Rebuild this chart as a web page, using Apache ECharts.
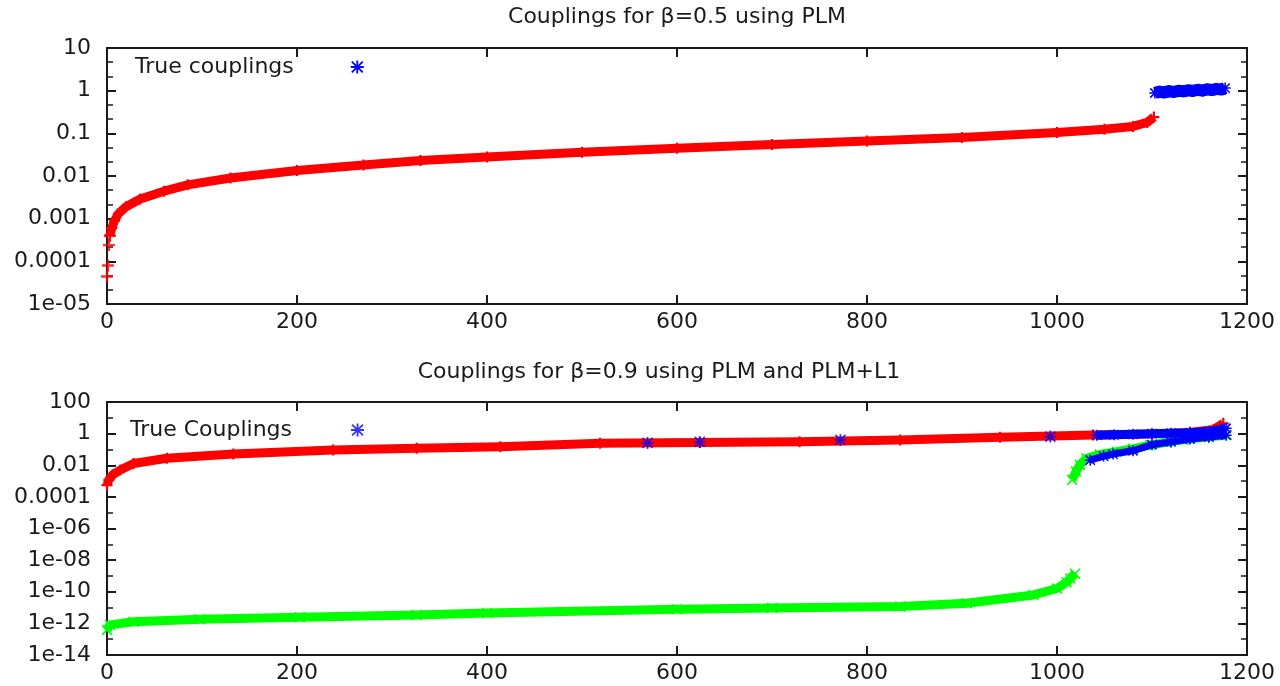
<!DOCTYPE html>
<html>
<head>
<meta charset="utf-8">
<script src="https://cdn.jsdelivr.net/npm/echarts@6/dist/echarts.min.js"></script>
<style>
  html, body { margin: 0; background: #fff; }
  #chart { width: 1280px; height: 686px; }
</style>
</head>
<body>
<div id="chart"></div>
<script>
// tick labels
const xTickMax = 1200;
const topYLabels = ['1e-05', '0.0001', '0.001', '0.01', '0.1', '1', '10'];
const bottomYLabels = ['1e-14', '1e-12', '1e-10', '1e-08', '1e-06', '0.0001', '0.01', '1', '100'];

// beta = 0.5, PLM couplings (sorted)
const topPlmX = [0, 1, 2, 3, 5, 8, 12, 20, 35, 60, 85, 130, 200, 270, 330, 400, 500, 600, 700, 800, 900, 1000, 1050, 1080, 1095, 1102];
const topPlmY = [4.4e-5, 8e-5, 2.4e-4, 4e-4, 6e-4, 9e-4, 1.3e-3, 1.9e-3, 2.9e-3, 4.4e-3, 6.2e-3, 9e-3, 1.35e-2, 1.8e-2, 2.3e-2, 2.8e-2, 3.6e-2, 4.5e-2, 5.5e-2, 6.6e-2, 8e-2, 0.105, 0.125, 0.145, 0.18, 0.24];
// beta = 0.5, true couplings
const topTrueX = [1103, 1108, 1113, 1118, 1123, 1128, 1133, 1138, 1143, 1148, 1153, 1158, 1163, 1168, 1173, 1177];
const topTrueY = [0.88, 0.95, 0.9, 0.98, 0.93, 1.0, 0.96, 1.02, 0.98, 1.05, 1.0, 1.08, 1.03, 1.1, 1.06, 1.15];

// beta = 0.9, PLM
const botPlmX = [0, 2, 6, 14, 28, 63, 133, 238, 326, 414, 519, 624, 729, 835, 940, 1038, 1100, 1140, 1165, 1175];
const botPlmY = [5.6e-4, 1.2e-3, 2.5e-3, 5e-3, 1.3e-2, 2.75e-2, 5.1e-2, 9.1e-2, 0.117, 0.148, 0.245, 0.27, 0.31, 0.4, 0.59, 0.81, 0.95, 1.2, 1.8, 4.5];
// beta = 0.9, PLM+L1 (small branch and large branch)
const botL1LowX = [0, 3, 28, 98, 203, 326, 400, 600, 700, 835, 905, 975, 1000, 1010, 1014, 1019];
const botL1LowY = [3.8e-13, 8e-13, 1.26e-12, 1.8e-12, 2.4e-12, 3.4e-12, 4.5e-12, 7.9e-12, 9.5e-12, 1.15e-11, 1.86e-11, 6.3e-11, 1.6e-10, 4e-10, 7e-10, 1.4e-9];
const botL1HighX = [1016, 1020, 1024, 1031, 1045, 1063, 1080, 1098, 1115, 1133, 1155, 1179];
const botL1HighY = [1.2e-3, 4e-3, 1.05e-2, 2.75e-2, 4.8e-2, 7.2e-2, 0.11, 0.19, 0.28, 0.4, 0.58, 0.81];
// beta = 0.9, true couplings
const botTrueSpotX = [569, 624, 772, 993];
const botTrueSpotY = [0.26, 0.3, 0.4, 0.65];
const botTrueUpperX = [1042, 1060, 1080, 1100, 1120, 1140, 1160, 1172, 1178];
const botTrueUpperY = [0.8, 0.85, 0.9, 1.0, 1.05, 1.15, 1.35, 1.7, 2.2];
const botTrueLowerX = [1035, 1049, 1059, 1080, 1100, 1120, 1140, 1160, 1178];
const botTrueLowerY = [0.021, 0.038, 0.051, 0.083, 0.2, 0.3, 0.45, 0.6, 0.8];

const PLUS = 'path://M4,0H6V4H10V6H6V10H4V6H0V4H4Z';
const STAR = 'path://M4.3,0H5.7V10H4.3Z M0,4.3H10V5.7H0Z M1.3,0.3L9.7,8.7L8.7,9.7L0.3,1.3Z M8.7,0.3L9.7,1.3L1.3,9.7L0.3,8.7Z';
const CROSS = 'path://M1.3,0.3L9.7,8.7L8.7,9.7L0.3,1.3Z M8.7,0.3L9.7,1.3L1.3,9.7L0.3,8.7Z';
const FONT = 'DejaVu Sans';
const INK = '#1a1a1a';
const FS = 22;

function pts(xs, ys) {
    return xs.map((x, i) => [x, ys[i]]);
}

function xAxes(gi) {
    const base = {
        type: 'value', gridIndex: gi, min: 0, max: xTickMax, interval: 200,
        splitLine: { show: false },
        axisLine: { onZero: false, lineStyle: { color: INK, width: 2 } },
        axisTick: { inside: true, length: 9, lineStyle: { color: INK, width: 2 } }
    };
    return [
        Object.assign({}, base, { position: 'bottom',
            axisLabel: { margin: 7, color: INK, fontSize: FS, fontFamily: FONT, formatter: v => String(v) } }),
        Object.assign({}, base, { position: 'top', axisLabel: { show: false } })
    ];
}

function yAxes(gi, minExp, maxExp, step, labels) {
    const base = {
        type: 'log', gridIndex: gi, logBase: 10,
        min: Math.pow(10, minExp), max: Math.pow(10, maxExp), interval: step,
        splitLine: { show: false },
        axisLine: { onZero: false, lineStyle: { color: INK, width: 2 } },
        axisTick: { inside: true, length: 9, lineStyle: { color: INK, width: 2 } }
    };
    const fmt = v => {
        const k = Math.round((Math.log10(v) - minExp) / step);
        return labels[k] !== undefined ? labels[k] : '';
    };
    return [
        Object.assign({}, base, { position: 'left',
            axisLabel: { margin: 16, color: INK, fontSize: FS, fontFamily: FONT, formatter: fmt } }),
        Object.assign({}, base, { position: 'right', axisLabel: { show: false } })
    ];
}

// short tick marks in between the labelled decades (in exponent units)
function minorAxes(gi, minExp, maxExp, step) {
    const base = {
        type: 'value', gridIndex: gi, min: minExp, max: maxExp, interval: step,
        splitLine: { show: false }, axisLabel: { show: false },
        axisLine: { show: false, onZero: false },
        axisTick: { inside: true, length: 6, lineStyle: { color: INK, width: 1.5 } }
    };
    return [
        Object.assign({}, base, { position: 'left' }),
        Object.assign({}, base, { position: 'right' })
    ];
}

function band(name, data, color, symbol, width, xi, yi, z) {
    return {
        type: 'line', name: name, data: data, xAxisIndex: xi, yAxisIndex: yi,
        symbol: symbol, symbolSize: 11, showAllSymbol: true,
        lineStyle: { color: color, width: width, join: 'round' },
        itemStyle: { color: color }, emphasis: { disabled: true }, z: z
    };
}

function dots(name, data, color, symbol, xi, yi, z) {
    return {
        type: 'scatter', name: name, data: data, xAxisIndex: xi, yAxisIndex: yi,
        symbol: symbol, symbolSize: 12, itemStyle: { color: color },
        emphasis: { disabled: true }, z: z
    };
}

function legendBox(name, left, top, gap) {
    return {
        data: [name], left: left, top: top, padding: 0, align: 'right',
        icon: STAR, itemWidth: 13, itemHeight: 13, selectedMode: false,
        formatter: '{t|{name}}',
        textStyle: { fontSize: FS, color: INK, fontFamily: FONT,
            rich: { t: { padding: [0, gap, 0, 0], fontSize: FS, color: INK, fontFamily: FONT } } }
    };
}

const topPlm = pts(topPlmX, topPlmY);

const chart = echarts.init(document.getElementById('chart'));
chart.setOption({
    animation: false,
    backgroundColor: '#fff',
    title: [
        { text: 'Couplings for β=0.5 using PLM', left: 677, top: 6, textAlign: 'center', padding: 0,
          textStyle: { fontSize: FS, fontWeight: 'normal', color: INK, fontFamily: FONT } },
        { text: 'Couplings for β=0.9 using PLM and PLM+L1', left: 659, top: 361, textAlign: 'center', padding: 0,
          textStyle: { fontSize: FS, fontWeight: 'normal', color: INK, fontFamily: FONT } }
    ],
    legend: [
        legendBox('True couplings', 135, 56, 52),
        legendBox('True Couplings', 130, 419, 54)
    ],
    grid: [
        { left: 107, right: 33, top: 48, height: 256, show: true, borderColor: INK, borderWidth: 2 },
        { left: 107, right: 33, top: 402, height: 253, show: true, borderColor: INK, borderWidth: 2 }
    ],
    xAxis: xAxes(0).concat(xAxes(1)),
    yAxis: yAxes(0, -5, 1, 1, topYLabels)
        .concat(yAxes(1, -14, 2, 2, bottomYLabels))
        .concat(minorAxes(0, -5, 1, 1 / 3))
        .concat(minorAxes(1, -14, 2, 1)),
    series: [
        band('PLM', topPlm.slice(3), '#ff0000', PLUS, 9, 0, 0, 2),
        dots('PLM', topPlm.slice(0, 4), '#ff0000', PLUS, 0, 0, 2),
        band('True couplings', pts(topTrueX, topTrueY), '#0000ff', STAR, 12, 0, 0, 3),

        band('PLM', pts(botPlmX, botPlmY), '#ff0000', PLUS, 9, 2, 2, 2),
        band('PLM+L1', pts(botL1LowX, botL1LowY), '#00ff00', CROSS, 9, 2, 2, 2),
        band('PLM+L1', pts(botL1HighX, botL1HighY), '#00ff00', CROSS, 9, 2, 2, 2),
        dots('True Couplings', pts(botTrueSpotX, botTrueSpotY), '#0000ff', STAR, 2, 2, 3),
        band('True Couplings', pts(botTrueUpperX, botTrueUpperY), '#0000ff', STAR, 9, 2, 2, 3),
        band('True Couplings', pts(botTrueLowerX, botTrueLowerY), '#0000ff', STAR, 7, 2, 2, 3)
    ]
});
</script>
</body>
</html>
